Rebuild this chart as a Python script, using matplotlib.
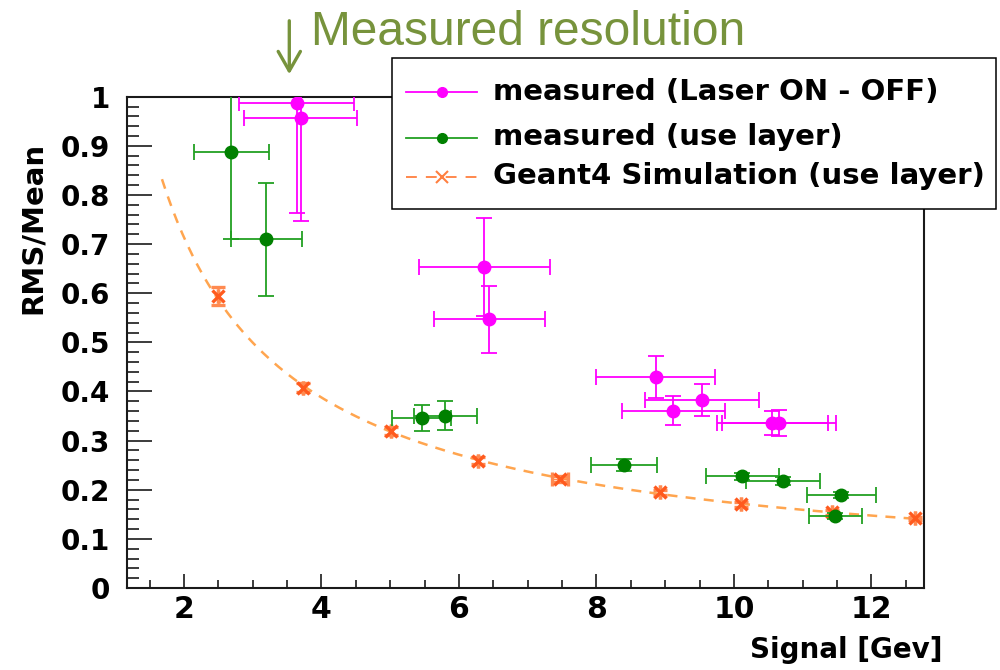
import numpy as np
import matplotlib
matplotlib.use("Agg")
import matplotlib.pyplot as plt
from matplotlib.lines import Line2D
from matplotlib.patches import Rectangle, FancyArrowPatch
from matplotlib.ticker import MultipleLocator, FuncFormatter

# measured (Laser ON - OFF)
laser_x = [3.64, 3.70, 6.37, 6.44, 8.86, 9.54, 9.12, 10.56, 10.65]
laser_y = [0.988, 0.957, 0.654, 0.547, 0.429, 0.383, 0.361, 0.336, 0.336]
laser_xerr = [0.84, 0.82, 0.95, 0.81, 0.87, 0.83, 0.75, 0.81, 0.83]
laser_yerr = [0.225, 0.210, 0.100, 0.068, 0.043, 0.033, 0.030, 0.025, 0.026]

# measured (use layer)
layer_x = [2.69, 3.20, 5.46, 5.80, 8.40, 10.12, 10.71, 11.56, 11.47]
layer_y = [0.888, 0.710, 0.346, 0.351, 0.250, 0.227, 0.217, 0.190, 0.146]
layer_xerr = [0.545, 0.52, 0.43, 0.46, 0.475, 0.53, 0.535, 0.50, 0.385]
layer_yerr = [0.178, 0.115, 0.027, 0.029, 0.012, 0.008, 0.008, 0.006, 0.006]

# Geant4 simulation (use layer)
sim_x = [2.49, 3.73, 5.01, 6.27, 7.47, 8.92, 10.10, 11.42, 12.63]
sim_y = [0.594, 0.408, 0.319, 0.259, 0.222, 0.195, 0.170, 0.154, 0.1415]
sim_xerr = [0, 0, 0, 0, 0.12, 0, 0, 0, 0]
sim_yerr = [0.018, 0.010, 0.008, 0.007, 0.006, 0.005, 0.005, 0.005, 0.004]

legend_labels = ["measured (Laser ON - OFF)", "measured (use layer)",
                 "Geant4 Simulation (use layer)"]

MAGENTA = "#ff00ff"
GREEN_BAR = "#22a022"
GREEN_DOT = "#008000"
SIM_MARK = "#ff5a1e"
SIM_BAR = "#ff8a50"
SIM_LINE = "#ffa54f"
OLIVE = "#77933c"
INK = "#1a1a1a"

W, H = 1000, 670


def fx(px):
    return px / W


def fy(py):
    return 1 - py / H


fig = plt.figure(figsize=(W / 100, H / 100), dpi=100)
ax = fig.add_axes([fx(126.7), fy(588), fx(924) - fx(126.7), fy(96.7) - fy(588)])

ax.set_xlim(1.167, 12.764)
ax.set_ylim(0, 1.0)

# power-law fit of the simulated points, drawn as the dashed guide
coef = np.polyfit(np.log(sim_x), np.log(sim_y), 1)
e = np.linspace(1.68, 12.7, 300)
ax.plot(e, np.exp(np.polyval(coef, np.log(e))), ls=(0, (4, 3.3)),
        color=SIM_LINE, lw=1.8, zorder=2)

ax.errorbar(sim_x, sim_y, xerr=sim_xerr, yerr=sim_yerr, fmt="x", color=SIM_MARK,
            ms=9, mew=2.4, ecolor=SIM_BAR, elinewidth=1.0, capsize=5, capthick=1.0,
            zorder=3)

ax.errorbar(layer_x, layer_y, xerr=layer_xerr, yerr=layer_yerr, fmt="o",
            mfc=GREEN_DOT, mec=GREEN_DOT, ms=9, ecolor=GREEN_BAR, elinewidth=1.3,
            capsize=5.5, capthick=1.3, zorder=4)

ax.errorbar(laser_x, laser_y, xerr=laser_xerr, yerr=laser_yerr, fmt="o",
            color=MAGENTA, ms=9, elinewidth=1.3, capsize=5.5, capthick=1.3, zorder=5)

# ROOT-like frame and ticks
for s in ax.spines.values():
    s.set_linewidth(1.5)
    s.set_color(INK)

ax.xaxis.set_major_locator(MultipleLocator(2))
ax.xaxis.set_minor_locator(MultipleLocator(0.5))
ax.yaxis.set_major_locator(MultipleLocator(0.1))
ax.yaxis.set_minor_locator(MultipleLocator(0.02))
ax.yaxis.set_major_formatter(FuncFormatter(lambda v, _: f"{v:g}"))

ax.tick_params(axis="x", which="major", direction="in", length=10, width=1.2,
               color=INK, top=False, pad=5)
ax.tick_params(axis="x", which="minor", direction="in", length=6, width=1.2,
               color=INK, top=False)
ax.tick_params(axis="y", which="major", direction="in", length=18, width=1.2,
               color=INK, right=False, pad=12)
ax.tick_params(axis="y", which="minor", direction="in", length=8.6, width=1.2,
               color=INK, right=False)

for lab in ax.get_xticklabels():
    lab.set_fontfamily("DejaVu Sans")
    lab.set_fontweight("bold")
    lab.set_fontsize(21.5)
for lab in ax.get_yticklabels():
    lab.set_fontfamily("DejaVu Sans")
    lab.set_fontweight("bold")
    lab.set_fontsize(20)

fig.text(fx(943), fy(658), "Signal [Gev]", ha="right", va="baseline",
         fontfamily="DejaVu Sans", fontweight="bold", fontsize=20)
fig.text(fx(33), fy(228), "RMS/Mean", ha="center", va="center", rotation=90,
         fontfamily="DejaVu Sans", fontweight="bold", fontsize=21)

# legend box
fig.add_artist(Rectangle((fx(392), fy(209.3)), fx(996) - fx(392), fy(58.3) - fy(209.3),
                         transform=fig.transFigure, facecolor="white",
                         edgecolor="black", lw=1.1, zorder=10))
rows = [91.7, 137.7, 177.3]
baselines = [100, 145, 183.5]
handle_styles = [
    dict(line=dict(color=MAGENTA, lw=1.3), mark=dict(marker="o", color=MAGENTA, ms=7)),
    dict(line=dict(color=GREEN_BAR, lw=1.3), mark=dict(marker="o", color=GREEN_DOT, ms=7)),
    dict(line=dict(color="#ff7f3f", lw=1.3, ls=(0, (6, 5))),
         mark=dict(marker="x", color="#ff7f3f", ms=8, mew=1.5)),
]
for row, base, label, st in zip(rows, baselines, legend_labels, handle_styles):
    fig.add_artist(Line2D([fx(406), fx(477)], [fy(row), fy(row)],
                          transform=fig.transFigure, zorder=11, **st["line"]))
    fig.add_artist(Line2D([fx(442)], [fy(row)], transform=fig.transFigure,
                          ls="none", zorder=12, **st["mark"]))
    fig.text(fx(493), fy(base), label, ha="left", va="baseline",
             fontfamily="DejaVu Sans", fontweight="bold", fontsize=21, zorder=12)

# headline with pointer arrow
fig.text(fx(310.7), fy(45), "Measured resolution", ha="left", va="baseline",
         fontfamily="Liberation Sans", fontsize=34.5, color=OLIVE)
fig.add_artist(FancyArrowPatch((fx(289.3), fy(18)), (fx(289.3), fy(77)),
                               transform=fig.transFigure,
                               arrowstyle="->,head_length=14,head_width=8",
                               mutation_scale=1, color=OLIVE, lw=2.4))

fig.savefig("out.png", dpi=100)
